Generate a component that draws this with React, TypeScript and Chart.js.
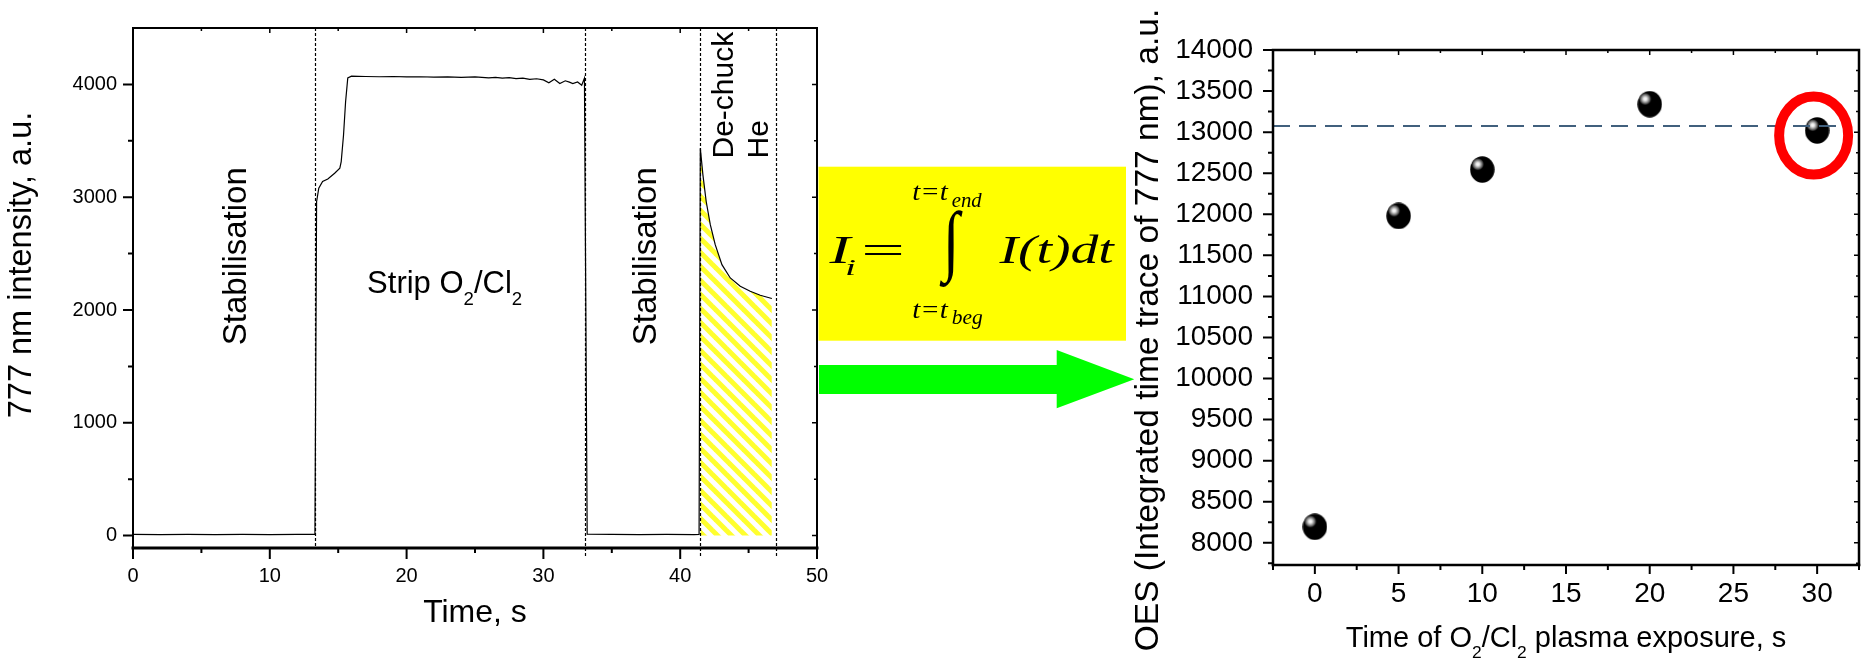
import React, { useEffect, useRef } from 'react';
import { Chart, registerables } from 'chart.js';

Chart.register(...registerables);

// ---------- Left plot data: 777 nm OES time trace ----------
const TIME_S = [
  0, 2, 4, 6, 8, 10, 12, 13.3, 13.42, 13.58, 13.86, 14.24, 14.74, 15.12, 15.22, 15.39, 15.54, 15.7, 15.97,
  17, 18, 19, 20, 21, 22, 23, 24, 25, 26, 26.5, 27, 27.5, 28, 28.5, 29, 29.5, 30, 30.4, 30.8, 31.2, 31.6,
  31.9, 32.15, 32.5, 32.8, 33.0, 33.2, 35, 37, 39, 41, 41.38, 41.47, 41.66, 41.9, 42.2, 42.56, 43.05, 43.66,
  44.39, 45.12, 45.85, 46.7,
];
const INTENSITY = [
  10, 8, 10, 9, 10, 8, 10, 10, 2960, 3080, 3139, 3162, 3212, 3257, 3316, 3552, 3846, 4058, 4073,
  4070, 4068, 4070, 4066, 4068, 4065, 4067, 4062, 4066, 4058, 4062, 4055, 4060, 4052, 4056, 4045, 4050, 4040, 4015, 4045, 4008, 4032,
  4020, 4008, 4022, 3993, 4056, 12, 10, 8, 10, 9, 10, 3433, 3198, 2962, 2756, 2579, 2402, 2284,
  2210, 2166, 2131, 2102,
];
const PHASE_BOUNDS = [13.3, 33.05, 41.45, 47.0];
const HATCH_START = 41.47;
const HATCH_END = 46.7;
const LEFT_X_TICKS = [0, 10, 20, 30, 40, 50];
const LEFT_X_MINOR = [5, 15, 25, 35, 45];
const LEFT_Y_TICKS = [0, 1000, 2000, 3000, 4000];
const LEFT_Y_MINOR = [500, 1500, 2500, 3500];

// ---------- Right plot data: integrated OES vs exposure ----------
const EXPOSURE_S = [0, 5, 10, 20, 30];
const OES_INTEGRAL = [8195, 11980, 12545, 13340, 13020];
const REFERENCE_LEVEL = 13075;
const REFERENCE_SPAN = [-2.5, 31.9];
const RIGHT_X_TICKS = [0, 5, 10, 15, 20, 25, 30];
const RIGHT_X_MINOR = [-2.5, 2.5, 7.5, 12.5, 17.5, 22.5, 27.5, 32.5];
const RIGHT_Y_TICKS = [8000, 8500, 9000, 9500, 10000, 10500, 11000, 11500, 12000, 12500, 13000, 13500, 14000];
const RIGHT_Y_MINOR = [7750, 8250, 8750, 9250, 9750, 10250, 10750, 11250, 11750, 12250, 12750, 13250, 13750];
const HIGHLIGHT_CENTER = [29.79, 12959];

const SANS = "'Liberation Sans', Arial, Helvetica, sans-serif";
const SERIF = "'Liberation Serif', 'Times New Roman', serif";

type Part = [string, boolean];

function richText(ctx: CanvasRenderingContext2D, parts: Part[], x: number, base: number, size: number, align: 'center' | 'left') {
  const sub = size * 0.6;
  const drop = size * 0.38;
  const widths = parts.map(([t, s]) => {
    ctx.font = `${s ? sub : size}px ${SANS}`;
    return ctx.measureText(t).width;
  });
  const total = widths.reduce((a, b) => a + b, 0);
  let cx = align === 'center' ? x - total / 2 : x;
  ctx.textAlign = 'left';
  ctx.textBaseline = 'alphabetic';
  parts.forEach(([t, s], i) => {
    ctx.font = `${s ? sub : size}px ${SANS}`;
    ctx.fillText(t, cx, s ? base + drop : base);
    cx += widths[i];
  });
}

function rotText(ctx: CanvasRenderingContext2D, text: string, x: number, y: number, size: number, align: CanvasTextAlign) {
  ctx.save();
  ctx.translate(x, y);
  ctx.rotate(-Math.PI / 2);
  ctx.font = `${size}px ${SANS}`;
  ctx.textAlign = align;
  ctx.textBaseline = 'alphabetic';
  ctx.fillStyle = '#000';
  ctx.fillText(text, 0, 0);
  ctx.restore();
}

// fit ink of text horizontally between left and right, on a baseline
function fitText(ctx: CanvasRenderingContext2D, text: string, font: string, left: number, right: number, base: number) {
  ctx.save();
  ctx.font = font;
  ctx.textAlign = 'left';
  ctx.textBaseline = 'alphabetic';
  const m = ctx.measureText(text);
  const ink = m.actualBoundingBoxRight + m.actualBoundingBoxLeft;
  ctx.translate(left, base);
  ctx.scale((right - left) / ink, 1);
  ctx.fillText(text, m.actualBoundingBoxLeft, 0);
  ctx.restore();
}

function fitBox(ctx: CanvasRenderingContext2D, text: string, font: string, l: number, t: number, r: number, b: number) {
  ctx.save();
  ctx.font = font;
  ctx.textAlign = 'left';
  ctx.textBaseline = 'alphabetic';
  const m = ctx.measureText(text);
  const iw = m.actualBoundingBoxRight + m.actualBoundingBoxLeft;
  const ih = m.actualBoundingBoxAscent + m.actualBoundingBoxDescent;
  ctx.translate(l, t);
  ctx.scale((r - l) / iw, (b - t) / ih);
  ctx.fillText(text, m.actualBoundingBoxLeft, m.actualBoundingBoxAscent);
  ctx.restore();
}

function tickMarks(ctx: CanvasRenderingContext2D, scale: any, values: number[], len: number, edge: string, a: any, lw: number) {
  ctx.lineWidth = lw;
  ctx.beginPath();
  for (const v of values) {
    const p = scale.getPixelForValue(v);
    if (edge === 'bottom') { ctx.moveTo(p, a.bottom); ctx.lineTo(p, a.bottom + len); }
    else if (edge === 'left') { ctx.moveTo(a.left, p); ctx.lineTo(a.left - len, p); }
    else if (edge === 'top') { ctx.moveTo(p, a.top); ctx.lineTo(p, a.top + len); }
    else { ctx.moveTo(a.right, p); ctx.lineTo(a.right - len, p); }
  }
  ctx.stroke();
}

function frame(ctx: CanvasRenderingContext2D, a: any, lw: number, bottomLw: number) {
  ctx.strokeStyle = '#000';
  ctx.lineCap = 'square';
  ctx.lineWidth = lw;
  ctx.beginPath();
  ctx.moveTo(a.left, a.bottom); ctx.lineTo(a.left, a.top); ctx.lineTo(a.right, a.top); ctx.lineTo(a.right, a.bottom);
  ctx.stroke();
  ctx.lineWidth = bottomLw;
  ctx.beginPath();
  ctx.moveTo(a.left, a.bottom); ctx.lineTo(a.right, a.bottom);
  ctx.stroke();
  ctx.lineCap = 'butt';
}

const leftDecor = {
  id: 'leftDecor',
  afterDatasetsDraw(chart: any) {
    const { ctx, chartArea: a, scales: { x, y } } = chart;
    ctx.save();
    // phase boundaries
    ctx.strokeStyle = '#000';
    ctx.lineWidth = 1.2;
    ctx.setLineDash([3, 2]);
    PHASE_BOUNDS.forEach((t, i) => {
      const px = Math.round(x.getPixelForValue(t)) + 0.5;
      ctx.beginPath();
      ctx.moveTo(px, a.top);
      ctx.lineTo(px, a.bottom + (i === 0 ? 0 : 10));
      ctx.stroke();
    });
    ctx.setLineDash([]);
    // frame and ticks
    frame(ctx, a, 2, 3);
    ctx.strokeStyle = '#000';
    tickMarks(ctx, x, LEFT_X_TICKS, 11, 'bottom', a, 2);
    tickMarks(ctx, x, LEFT_X_MINOR, 5, 'bottom', a, 2);
    tickMarks(ctx, y, LEFT_Y_TICKS, 10, 'left', a, 2);
    tickMarks(ctx, y, LEFT_Y_MINOR, 5, 'left', a, 2);
    tickMarks(ctx, x, LEFT_X_TICKS, 5, 'top', a, 1.5);
    tickMarks(ctx, x, LEFT_X_MINOR, 3, 'top', a, 1.5);
    tickMarks(ctx, y, LEFT_Y_TICKS, 5, 'right', a, 1.5);
    tickMarks(ctx, y, LEFT_Y_MINOR, 3, 'right', a, 1.5);

    // phase annotations
    ctx.fillStyle = '#000';
    rotText(ctx, 'Stabilisation', x.getPixelForValue(8.26), y.getPixelForValue(2477), 33, 'center');
    rotText(ctx, 'Stabilisation', x.getPixelForValue(38.23), y.getPixelForValue(2477), 33, 'center');
    rotText(ctx, 'De-chuck', x.getPixelForValue(43.86), y.getPixelForValue(3343), 30, 'left');
    rotText(ctx, 'He', x.getPixelForValue(46.45), y.getPixelForValue(3343), 30, 'left');
    richText(ctx, [['Strip O', false], ['2', true], ['/Cl', false], ['2', true]],
      x.getPixelForValue(22.78), y.getPixelForValue(2148), 31, 'center');

    // axis titles
    ctx.fillStyle = '#000';
    ctx.font = `32px ${SANS}`;
    ctx.textAlign = 'center';
    ctx.textBaseline = 'alphabetic';
    ctx.fillText('Time, s', (a.left + a.right) / 2, 621.5);
    rotText(ctx, '777 nm intensity, a.u.', 31, 265, 32.5, 'center');

    // formula box
    ctx.fillStyle = '#ffff00';
    ctx.fillRect(818.5, 166.7, 1126 - 818.5, 340.7 - 166.7);
    ctx.fillStyle = '#000';
    fitText(ctx, 'I', `italic 40px ${SERIF}`, 828, 853, 263.3);
    fitText(ctx, 'i', `italic 24px ${SERIF}`, 846.7, 855, 275);
    fitText(ctx, '=', `40px ${SERIF}`, 865, 901.7, 264);
    fitBox(ctx, '\u222B', `60px ${SERIF}`, 940, 210, 963.3, 288.3);
    fitText(ctx, 't=t', `italic 25px ${SERIF}`, 913.3, 949, 200);
    fitText(ctx, 'end', `italic 20px ${SERIF}`, 951.7, 982.7, 207.3);
    fitText(ctx, 't=t', `italic 25px ${SERIF}`, 913.3, 949, 318.3);
    fitText(ctx, 'beg', `italic 20px ${SERIF}`, 951.7, 982.7, 324);
    fitText(ctx, 'I(t)dt', `italic 40px ${SERIF}`, 998, 1115, 263.3);

    // arrow
    ctx.fillStyle = '#00ff00';
    ctx.beginPath();
    ctx.moveTo(819, 365);
    ctx.lineTo(1056.7, 365);
    ctx.lineTo(1056.7, 350);
    ctx.lineTo(1134.3, 379.3);
    ctx.lineTo(1056.7, 408.3);
    ctx.lineTo(1056.7, 394);
    ctx.lineTo(819, 394);
    ctx.closePath();
    ctx.fill();
    ctx.restore();
  },
};

const rightDecor = {
  id: 'rightDecor',
  afterDatasetsDraw(chart: any) {
    const { ctx, chartArea: a, scales: { x, y } } = chart;
    ctx.save();
    frame(ctx, a, 2.5, 2.5);
    ctx.strokeStyle = '#000';
    tickMarks(ctx, x, RIGHT_X_TICKS, 9, 'bottom', a, 2);
    tickMarks(ctx, x, RIGHT_X_MINOR, 5, 'bottom', a, 2);
    tickMarks(ctx, y, RIGHT_Y_TICKS, 10, 'left', a, 2);
    tickMarks(ctx, y, RIGHT_Y_MINOR, 5, 'left', a, 2);
    tickMarks(ctx, x, RIGHT_X_TICKS, 5, 'top', a, 1.5);
    tickMarks(ctx, x, RIGHT_X_MINOR, 3, 'top', a, 1.5);
    tickMarks(ctx, y, RIGHT_Y_TICKS, 5, 'right', a, 1.5);
    tickMarks(ctx, y, RIGHT_Y_MINOR, 3, 'right', a, 1.5);

    // highlight ring
    ctx.strokeStyle = '#ff0000';
    ctx.lineWidth = 10;
    ctx.beginPath();
    ctx.ellipse(x.getPixelForValue(HIGHLIGHT_CENTER[0]), y.getPixelForValue(HIGHLIGHT_CENTER[1]), 34.5, 39, 0, 0, Math.PI * 2);
    ctx.stroke();

    // titles
    ctx.fillStyle = '#000';
    richText(ctx, [['Time of O', false], ['2', true], ['/Cl', false], ['2', true], [' plasma exposure, s', false]],
      (a.left + a.right) / 2, 646.5, 29, 'center');
    rotText(ctx, 'OES (Integrated time trace of 777 nm), a.u.', 30, 330, 33.5, 'center');
    ctx.restore();
  },
};

function makeHatch(): HTMLCanvasElement {
  const s = 14;
  const c = document.createElement('canvas');
  c.width = s; c.height = s;
  const g = c.getContext('2d')!;
  g.strokeStyle = '#ffff2e';
  g.lineWidth = 5;
  for (const k of [-1, 0, 1]) {
    g.beginPath();
    g.moveTo(-2, -2 + k * s);
    g.lineTo(s + 2, s + 2 + k * s);
    g.stroke();
  }
  return c;
}

function makeSphere(): HTMLCanvasElement {
  const w = 25, h = 27;
  const c = document.createElement('canvas');
  c.width = w; c.height = h;
  const g = c.getContext('2d')!;
  g.fillStyle = '#000';
  g.beginPath();
  g.ellipse(w / 2, h / 2, w / 2 - 0.3, h / 2 - 0.3, 0, 0, Math.PI * 2);
  g.fill();
  const grd = g.createRadialGradient(8, 8.2, 0, 8, 8.2, 6.5);
  grd.addColorStop(0, '#ffffff');
  grd.addColorStop(0.25, '#e6e6e6');
  grd.addColorStop(0.5, '#a0a0a0');
  grd.addColorStop(0.8, '#404040');
  grd.addColorStop(1, 'rgba(0,0,0,0)');
  g.fillStyle = grd;
  g.beginPath();
  g.arc(8, 8.2, 6.5, 0, Math.PI * 2);
  g.fill();
  return c;
}

const fixedTicks = (vals: number[]) => (s: any) => { s.ticks = vals.map((v) => ({ value: v })); };
const plainLabel = (v: any) => String(v);

export default function App() {
  const leftRef = useRef<HTMLCanvasElement>(null);
  const rightRef = useRef<HTMLCanvasElement>(null);

  useEffect(() => {
    const lc = leftRef.current!;
    const rc = rightRef.current!;
    const pattern = lc.getContext('2d')!.createPattern(makeHatch(), 'repeat')!;
    const curve = TIME_S.map((t, i) => ({ x: t, y: INTENSITY[i] }));
    const hatch = curve.filter((p) => p.x >= HATCH_START && p.x <= HATCH_END);

    const left = new Chart(lc, {
      type: 'line',
      data: {
        datasets: [
          { data: curve, borderColor: '#000', borderWidth: 1.2, pointRadius: 0, fill: false, tension: 0 },
          { data: hatch, borderColor: 'rgba(0,0,0,0)', borderWidth: 0, pointRadius: 0, fill: 'origin', backgroundColor: pattern },
        ],
      },
      options: {
        animation: false,
        responsive: false,
        maintainAspectRatio: false,
        layout: { padding: { left: 0, top: 26, right: 323, bottom: 0 } },
        plugins: { legend: { display: false }, tooltip: { enabled: false } },
        scales: {
          x: {
            type: 'linear', min: 0, max: 50,
            afterBuildTicks: fixedTicks(LEFT_X_TICKS),
            afterFit: (s: any) => { s.height = 111; },
            grid: { display: false, drawTicks: false },
            border: { display: false },
            ticks: { font: { family: SANS, size: 20 }, color: '#000', padding: 16, maxRotation: 0, autoSkip: false, callback: plainLabel },
          },
          y: {
            type: 'linear', min: -110, max: 4500,
            afterBuildTicks: fixedTicks(LEFT_Y_TICKS),
            afterFit: (s: any) => { s.width = 133; },
            grid: { display: false, drawTicks: false },
            border: { display: false },
            ticks: { font: { family: SANS, size: 20 }, color: '#000', padding: 16, autoSkip: false, callback: plainLabel },
          },
        },
      } as any,
      plugins: [leftDecor],
    });

    const sphere = makeSphere();
    const right = new Chart(rc, {
      type: 'line',
      data: {
        datasets: [
          {
            data: REFERENCE_SPAN.map((v) => ({ x: v, y: REFERENCE_LEVEL })),
            borderColor: '#41607d', borderWidth: 2.2, borderDash: [17, 9], pointRadius: 0, fill: false,
          },
          {
            data: EXPOSURE_S.map((t, i) => ({ x: t, y: OES_INTEGRAL[i] })),
            showLine: false, pointStyle: sphere as any, pointRadius: 13, fill: false,
          },
        ],
      },
      options: {
        animation: false,
        responsive: false,
        maintainAspectRatio: false,
        layout: { padding: { left: 0, top: 50, right: 3, bottom: 0 } },
        plugins: { legend: { display: false }, tooltip: { enabled: false } },
        scales: {
          x: {
            type: 'linear', min: -2.5, max: 32.5,
            afterBuildTicks: fixedTicks(RIGHT_X_TICKS),
            afterFit: (s: any) => { s.height = 94; },
            grid: { display: false, drawTicks: false },
            border: { display: false },
            ticks: { font: { family: SANS, size: 28 }, color: '#000', padding: 12, maxRotation: 0, autoSkip: false, callback: plainLabel },
          },
          y: {
            type: 'linear', min: 7730, max: 14000,
            afterBuildTicks: fixedTicks(RIGHT_Y_TICKS),
            afterFit: (s: any) => { s.width = 145; },
            grid: { display: false, drawTicks: false },
            border: { display: false },
            ticks: { font: { family: SANS, size: 28 }, color: '#000', padding: 20, autoSkip: false, callback: plainLabel },
          },
        },
      } as any,
      plugins: [rightDecor],
    });

    return () => { left.destroy(); right.destroy(); };
  }, []);

  return (
    <div style={{ position: 'absolute', left: 0, top: 0, width: 1873, height: 659, background: '#fff', overflow: 'hidden' }}>
      <canvas ref={leftRef} width={1140} height={659} style={{ position: 'absolute', left: 0, top: 0, width: 1140, height: 659 }} />
      <canvas ref={rightRef} width={745} height={659} style={{ position: 'absolute', left: 1128, top: 0, width: 745, height: 659 }} />
    </div>
  );
}
